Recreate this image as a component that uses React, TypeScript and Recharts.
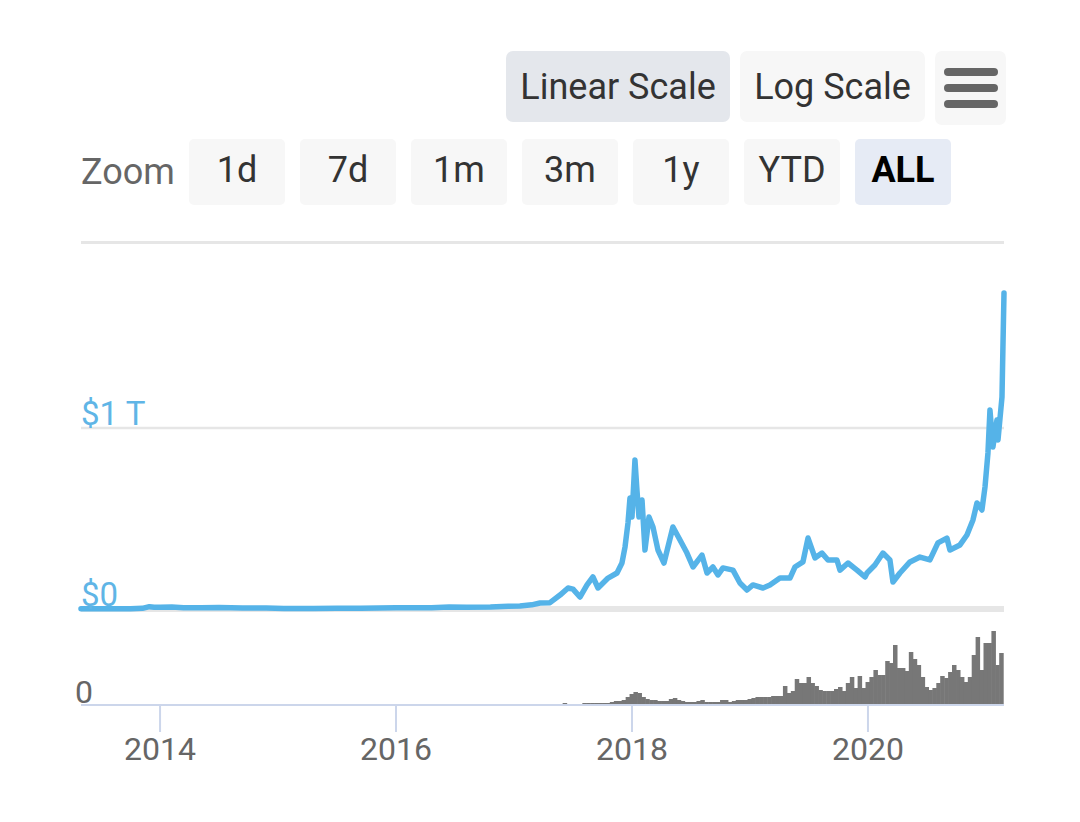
import React from "react";
import { LineChart, Line, BarChart, Bar, XAxis, YAxis, ReferenceLine } from "recharts";

// Market cap (in $ billions) by decimal year
const priceDates = [
  2013.33, 2013.45, 2013.6, 2013.75, 2013.85, 2013.91, 2013.95, 2014.0, 2014.1, 2014.2, 2014.35, 2014.5,
  2014.7, 2014.9, 2015.05, 2015.3, 2015.5, 2015.7, 2015.85, 2016.0, 2016.3, 2016.45, 2016.6, 2016.8,
  2016.95, 2017.05, 2017.15, 2017.22, 2017.305, 2017.39, 2017.458, 2017.5, 2017.559, 2017.619, 2017.669,
  2017.712, 2017.797, 2017.873, 2017.915, 2017.941, 2017.966, 2017.983, 2018.0, 2018.025, 2018.042,
  2018.059, 2018.085, 2018.11, 2018.144, 2018.178, 2018.22, 2018.271, 2018.347, 2018.407, 2018.466,
  2018.517, 2018.593, 2018.636, 2018.686, 2018.729, 2018.771, 2018.856, 2018.915, 2018.975, 2019.025,
  2019.11, 2019.169, 2019.254, 2019.339, 2019.381, 2019.449, 2019.492, 2019.551, 2019.61, 2019.661,
  2019.737, 2019.763, 2019.831, 2019.907, 2019.975, 2019.992, 2020.059, 2020.127, 2020.186, 2020.212,
  2020.271, 2020.356, 2020.441, 2020.525, 2020.593, 2020.669, 2020.695, 2020.78, 2020.839, 2020.89,
  2020.924, 2020.966, 2020.992, 2021.017, 2021.034, 2021.059, 2021.093, 2021.102, 2021.136, 2021.144,
  2021.153,
];
const priceValues = [
  1.5, 1.2, 1.0, 1.7, 3.5, 13, 10, 10, 11, 7, 6.5, 8.5,
  6, 5, 3.3, 3.3, 4, 3.5, 5.5, 6.5, 7.5, 11, 9.5, 11,
  15, 16, 23, 33, 35, 77, 116, 110, 66, 133, 177,
  116, 171, 199, 254, 343, 475, 613, 508, 823, 657,
  508, 602, 326, 508, 453, 326, 254, 453, 381, 309,
  232, 298, 199, 232, 188, 227, 215, 144, 105, 133,
  116, 133, 171, 171, 232, 260, 392, 282, 309, 271,
  271, 215, 254, 215, 177, 199, 243, 309, 271, 149,
  199, 260, 287, 271, 365, 392, 326, 354, 409, 492,
  586, 547, 674, 862, 1099, 895, 1044, 934, 1171, 1448,
  1746,
];

// Volume (in $ billions), one bar per ~12 days, by decimal year
const volumeDates = [
  2017.433, 2017.467, 2017.5, 2017.533, 2017.567, 2017.6, 2017.633, 2017.667, 2017.7, 2017.733,
  2017.767, 2017.8, 2017.833, 2017.867, 2017.9, 2017.933, 2017.967,
  2018.0, 2018.033, 2018.067, 2018.1, 2018.133, 2018.167, 2018.2, 2018.233, 2018.267, 2018.3,
  2018.333, 2018.367, 2018.4, 2018.433, 2018.467, 2018.5, 2018.533, 2018.567, 2018.6, 2018.633,
  2018.667, 2018.7, 2018.733, 2018.767, 2018.8, 2018.833, 2018.867, 2018.9, 2018.933, 2018.967,
  2019.0, 2019.033, 2019.067, 2019.1, 2019.133, 2019.167, 2019.2, 2019.233, 2019.267, 2019.3,
  2019.333, 2019.367, 2019.4, 2019.433, 2019.467, 2019.5, 2019.533, 2019.567, 2019.6, 2019.633,
  2019.667, 2019.7, 2019.733, 2019.767, 2019.8, 2019.833, 2019.867, 2019.9, 2019.933, 2019.967,
  2020.0, 2020.033, 2020.067, 2020.1, 2020.133, 2020.167, 2020.2, 2020.233, 2020.267, 2020.3,
  2020.333, 2020.367, 2020.4, 2020.433, 2020.467, 2020.5, 2020.533, 2020.567, 2020.6, 2020.633,
  2020.667, 2020.7, 2020.733, 2020.767, 2020.8, 2020.833, 2020.867, 2020.9, 2020.933, 2020.967,
  2021.0, 2021.033, 2021.067, 2021.1, 2021.133,
];
const volumeValues = [
  8, 0, 0, 0, 0, 8, 8, 8, 8, 8,
  8, 8, 12, 16, 16, 20, 32,
  44, 52, 48, 32, 24, 20, 20, 16, 16, 16,
  24, 28, 20, 16, 12, 12, 12, 16, 20, 12,
  12, 12, 12, 20, 20, 12, 16, 20, 20, 20,
  24, 28, 32, 32, 32, 32, 36, 36, 36, 76,
  48, 56, 104, 88, 88, 112, 88, 76, 60, 56,
  56, 56, 64, 72, 56, 88, 112, 68, 116, 68,
  92, 112, 140, 120, 120, 176, 168, 240, 148, 148,
  136, 212, 184, 160, 112, 72, 60, 68, 88, 116,
  108, 132, 160, 140, 112, 92, 112, 200, 272, 140,
  248, 248, 296, 160, 208,
];

const xTicks = [2014, 2016, 2018, 2020];
const priceTicks = [0, 1000];
const priceTickLabels = ["$0", "$1 T"];
const volumeTicks = [0];
const volumeTickLabels = ["0"];

const X_DOMAIN: [number, number] = [2013.33, 2021.153];

const priceData = priceDates.map((t, i) => ({ t, v: priceValues[i] }));
const volumeData = volumeDates.map((t, i) => ({ t, v: volumeValues[i] }));

const FONT = "Roboto, 'Noto Sans', Arial, sans-serif";

const PriceTick = (props: any) => {
  const { x, y, payload } = props;
  const idx = priceTicks.indexOf(payload.value);
  return (
    <text x={x} y={y - 3} textAnchor="start" fill="#5fb5e6" fontSize={33} fontFamily={FONT}>
      {priceTickLabels[idx]}
    </text>
  );
};

const VolumeTick = (props: any) => {
  const { x, y, payload } = props;
  const idx = volumeTicks.indexOf(payload.value);
  return (
    <text x={x - 6} y={y - 2} textAnchor="start" fill="#666666" fontSize={32} fontFamily={FONT}>
      {volumeTickLabels[idx]}
    </text>
  );
};

const VolumeBar = (props: any) => {
  const { x, y, width, height, fill } = props;
  if (!height || height <= 0) return null;
  return <rect x={x - 0.5} y={y} width={width + 1} height={height} fill={fill} />;
};

const btnBase: React.CSSProperties = {
  position: "absolute",
  display: "flex",
  alignItems: "center",
  justifyContent: "center",
  borderRadius: 7,
  background: "#f7f7f7",
  color: "#333333",
  fontSize: 36,
  fontFamily: FONT,
  boxSizing: "border-box",
};

const zoomButtons = ["1d", "7d", "1m", "3m", "1y", "YTD", "ALL"];

export default function App() {
  return (
    <div
      style={{
        position: "absolute",
        left: 0,
        top: 0,
        width: 1080,
        height: 822,
        background: "#ffffff",
        fontFamily: FONT,
        overflow: "hidden",
      }}
    >
      {/* Top buttons */}
      <div style={{ ...btnBase, left: 506, top: 51, width: 224, height: 71, background: "#e4e7ec" }}>
        Linear Scale
      </div>
      <div style={{ ...btnBase, left: 740, top: 51, width: 185, height: 71 }}>Log Scale</div>
      <div style={{ ...btnBase, left: 935, top: 51, width: 71, height: 74, flexDirection: "column", gap: 8 }}>
        {[0, 1, 2].map((i) => (
          <div key={i} style={{ width: 54, height: 8, borderRadius: 4, background: "#666666" }} />
        ))}
      </div>

      {/* Zoom row */}
      <div
        style={{
          position: "absolute",
          left: 81,
          top: 139,
          height: 66,
          display: "flex",
          alignItems: "center",
          fontSize: 36,
          color: "#666666",
          fontFamily: FONT,
        }}
      >
        Zoom
      </div>
      {zoomButtons.map((b, i) => (
        <div
          key={b}
          style={{
            ...btnBase,
            left: 189 + i * 111,
            top: 139,
            width: 96,
            height: 66,
            borderRadius: 5,
            paddingBottom: 4,
            background: b === "ALL" ? "#e6ebf5" : "#f7f7f7",
            color: b === "ALL" ? "#000000" : "#333333",
            fontWeight: b === "ALL" ? 700 : 400,
          }}
        >
          {b}
        </div>
      ))}

      {/* Separator line */}
      <div style={{ position: "absolute", left: 81, top: 241, width: 923, height: 3, background: "#e6e6e6" }} />

      {/* Price chart */}
      <div style={{ position: "absolute", left: 0, top: 240 }}>
        <LineChart width={1080} height={380} data={priceData} margin={{ top: 7, right: 76, bottom: 11, left: 80 }}>
          <XAxis type="number" dataKey="t" domain={X_DOMAIN} hide />
          <YAxis
            type="number"
            domain={[0, 2000]}
            ticks={priceTicks}
            width={1}
            tickSize={0}
            tickMargin={0}
            axisLine={false}
            tickLine={false}
            tick={<PriceTick />}
            interval={0}
          />
          <ReferenceLine y={1000} stroke="#e6e6e6" strokeWidth={2.5} />
          <ReferenceLine y={0} stroke="#e6e6e6" strokeWidth={6} />
          <Line
            type="linear"
            dataKey="v"
            stroke="#55b3e8"
            strokeWidth={5.5}
            dot={false}
            strokeLinejoin="round"
            strokeLinecap="round"
            isAnimationActive={false}
          />
        </LineChart>
      </div>

      {/* Volume chart */}
      <div style={{ position: "absolute", left: 0, top: 610 }}>
        <BarChart width={1080} height={180} data={volumeData} margin={{ top: 5, right: 76, bottom: 0, left: 80 }}>
          <XAxis
            type="number"
            dataKey="t"
            domain={X_DOMAIN}
            allowDataOverflow
            ticks={xTicks}
            interval={0}
            height={85}
            tickSize={27}
            tickMargin={5}
            axisLine={{ stroke: "#ccd6eb", strokeWidth: 2 }}
            tickLine={{ stroke: "#ccd6eb", strokeWidth: 2 }}
            tick={{ fill: "#666666", fontSize: 32, fontFamily: FONT }}
          />
          <YAxis
            type="number"
            domain={[0, 360]}
            ticks={volumeTicks}
            width={1}
            tickSize={0}
            tickMargin={0}
            axisLine={false}
            tickLine={false}
            tick={<VolumeTick />}
            interval={0}
          />
          <Bar dataKey="v" fill="#777777" barSize={4} shape={<VolumeBar />} isAnimationActive={false} />
        </BarChart>
      </div>
    </div>
  );
}
